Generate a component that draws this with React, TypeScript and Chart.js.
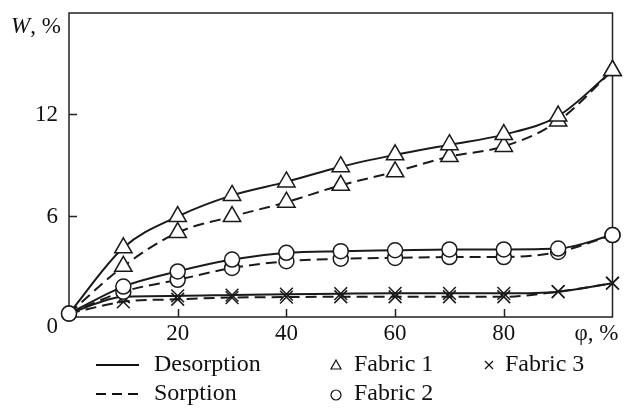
import React, { useEffect, useRef } from "react";
import { Chart, registerables } from "chart.js";

Chart.register(...registerables);

const phi = [0, 10, 20, 30, 40, 50, 60, 70, 80, 90, 100];
const fabric1Desorption = [0.2, 4.1, 5.95, 7.2, 8.0, 8.9, 9.6, 10.2, 10.8, 11.9, 14.6];
const fabric1Sorption = [0.2, 3.0, 5.0, 5.95, 6.8, 7.8, 8.6, 9.5, 10.1, 11.6, 14.6];
const fabric2Desorption = [0.2, 1.8, 2.7, 3.4, 3.8, 3.9, 3.95, 4.0, 4.0, 4.05, 4.85];
const fabric2Sorption = [0.2, 1.5, 2.2, 2.9, 3.3, 3.45, 3.5, 3.55, 3.55, 3.85, 4.85];
const fabric3Desorption = [0.2, 1.2, 1.25, 1.3, 1.35, 1.38, 1.4, 1.4, 1.4, 1.5, 2.0];
const fabric3Sorption = [0.2, 0.9, 1.05, 1.15, 1.18, 1.2, 1.2, 1.2, 1.2, 1.5, 2.0];

const yTickValues = [0, 6, 12];
const yTickLabels = ["0", "6", "12"];
const xTickValues = [20, 40, 60, 80];
const xTickLabels = ["20", "40", "60", "80"];
const yAxisTitle = "W";
const yAxisUnit = ", %";
const xAxisTitle = "φ, %";
const legendDesorption = "Desorption";
const legendSorption = "Sorption";
const legendFabric1 = "Fabric 1";
const legendFabric2 = "Fabric 2";
const legendFabric3 = "Fabric 3";

const FONT = '"Liberation Serif", "Times New Roman", serif';

function toPoints(vals: number[]) {
  return phi.map((x, i) => ({ x, y: vals[i] }));
}

const overlayPlugin = {
  id: "overlay",
  beforeDatasetsDraw(chart: any) {
    const { ctx, chartArea } = chart;
    const { left, top, right, bottom } = chartArea;
    const xs = chart.scales.x;
    const ys = chart.scales.y;
    ctx.save();
    ctx.strokeStyle = "#222";
    ctx.lineWidth = 1.5;
    ctx.strokeRect(left, top, right - left, bottom - top);
    ctx.beginPath();
    yTickValues.forEach((v) => {
      if (v === 0) return;
      const py = Math.round(ys.getPixelForValue(v)) + 0.5;
      ctx.moveTo(left, py);
      ctx.lineTo(left + 8, py);
    });
    xTickValues.forEach((v) => {
      const px = Math.round(xs.getPixelForValue(v)) + 0.5;
      ctx.moveTo(px, bottom);
      ctx.lineTo(px, bottom - 8);
    });
    ctx.stroke();
    ctx.restore();
  },
  afterDraw(chart: any) {
    const { ctx, chartArea } = chart;
    const { left, top, right, bottom } = chartArea;
    const xs = chart.scales.x;
    const ys = chart.scales.y;
    ctx.save();
    ctx.fillStyle = "#111";
    ctx.strokeStyle = "#111";
    ctx.font = `23px ${FONT}`;
    ctx.textBaseline = "middle";
    ctx.textAlign = "right";
    yTickValues.forEach((v, i) => {
      const py = ys.getPixelForValue(v) + (v === 0 ? 10 : 1);
      ctx.fillText(yTickLabels[i], left - 11, py);
    });
    ctx.textAlign = "center";
    xTickValues.forEach((v, i) => {
      ctx.fillText(xTickLabels[i], xs.getPixelForValue(v), bottom + 17);
    });
    ctx.textAlign = "right";
    ctx.fillText(xAxisTitle, right + 6, bottom + 17);
    ctx.textAlign = "left";
    ctx.font = `italic 23px ${FONT}`;
    const wW = ctx.measureText(yAxisTitle).width;
    ctx.fillText(yAxisTitle, 11, top + 14);
    ctx.font = `23px ${FONT}`;
    ctx.fillText(yAxisUnit, 11 + wW, top + 14);

    const r1 = 365;
    const r2 = 394;
    ctx.font = `24px ${FONT}`;
    ctx.lineWidth = 2;
    ctx.beginPath();
    ctx.moveTo(96, r1);
    ctx.lineTo(139, r1);
    ctx.stroke();
    ctx.setLineDash([10, 6]);
    ctx.beginPath();
    ctx.moveTo(96, r2);
    ctx.lineTo(139, r2);
    ctx.stroke();
    ctx.setLineDash([]);
    ctx.textAlign = "left";
    ctx.fillText(legendDesorption, 154, r1);
    ctx.fillText(legendSorption, 154, r2);

    ctx.lineWidth = 1.2;
    ctx.beginPath();
    ctx.moveTo(336, r1 - 5);
    ctx.lineTo(341, r1 + 4);
    ctx.lineTo(331, r1 + 4);
    ctx.closePath();
    ctx.stroke();
    ctx.fillText(legendFabric1, 354, r1);
    ctx.beginPath();
    ctx.arc(336, r2 + 1, 5, 0, Math.PI * 2);
    ctx.stroke();
    ctx.fillText(legendFabric2, 354, r2);
    ctx.beginPath();
    ctx.moveTo(485, r1 - 4);
    ctx.lineTo(493, r1 + 4);
    ctx.moveTo(493, r1 - 4);
    ctx.lineTo(485, r1 + 4);
    ctx.stroke();
    ctx.fillText(legendFabric3, 505, r1);
    ctx.restore();
  },
};

function lineDs(vals: number[], dashed: boolean, style: string, radius: number, hideFirst: boolean) {
  return {
    data: toPoints(vals),
    borderColor: "#1a1a1a",
    borderWidth: 2,
    borderDash: dashed ? [11, 6] : [],
    cubicInterpolationMode: "monotone" as const,
    pointStyle: style,
    pointRadius: (c: any) => (hideFirst && c.dataIndex === 0 ? 0 : radius),
    pointBorderColor: "#1a1a1a",
    pointBackgroundColor: "#ffffff",
    pointBorderWidth: 1.5,
    fill: false,
    clip: false,
  };
}

export default function App() {
  const ref = useRef<HTMLCanvasElement | null>(null);
  useEffect(() => {
    if (!ref.current) return;
    const chart = new Chart(ref.current, {
      type: "line",
      data: {
        datasets: [
          lineDs(fabric2Desorption, false, "circle", 7.5, false),
          lineDs(fabric2Sorption, true, "circle", 7.5, false),
          lineDs(fabric1Desorption, false, "triangle", 10, true),
          lineDs(fabric1Sorption, true, "triangle", 10, true),
          lineDs(fabric3Desorption, false, "crossRot", 9, true),
          lineDs(fabric3Sorption, true, "crossRot", 9, true),
        ] as any,
      },
      options: {
        responsive: false,
        animation: false,
        layout: { padding: { left: 0, top: 13, right: 8, bottom: 0 } },
        plugins: { legend: { display: false }, tooltip: { enabled: false } },
        scales: {
          x: {
            type: "linear",
            min: 0,
            max: 100,
            grid: { display: false },
            border: { display: false },
            ticks: { display: false },
            afterFit: (s: any) => {
              s.height = 91;
            },
          },
          y: {
            type: "linear",
            min: 0,
            max: 18,
            grid: { display: false },
            border: { display: false },
            ticks: { display: false },
            afterFit: (s: any) => {
              s.width = 69;
            },
          },
        },
      },
      plugins: [overlayPlugin],
    });
    return () => chart.destroy();
  }, []);
  return (
    <div style={{ position: "absolute", left: 0, top: 0, width: 624, height: 408, background: "#fff" }}>
      <canvas ref={ref} width={624} height={408} style={{ display: "block" }} />
    </div>
  );
}
